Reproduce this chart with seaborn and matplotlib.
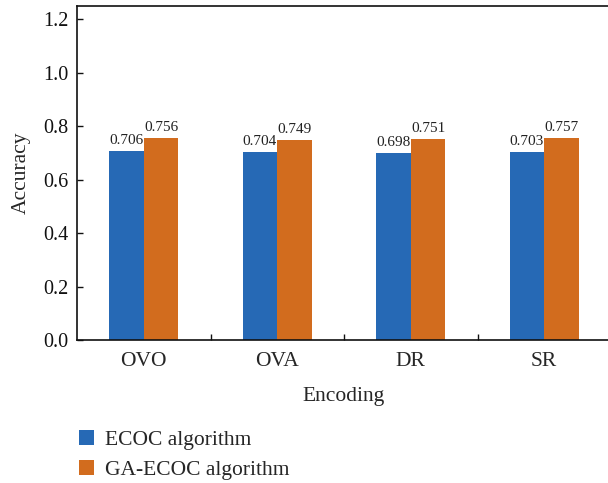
import matplotlib
matplotlib.use("Agg")
import matplotlib.pyplot as plt
import seaborn as sns
import pandas as pd
from matplotlib.ticker import FixedLocator

encodings = ["OVO", "OVA", "DR", "SR"]
ecoc = [0.706, 0.704, 0.698, 0.703]
ga_ecoc = [0.756, 0.749, 0.751, 0.757]
series_names = ["ECOC algorithm", "GA-ECOC algorithm"]
y_ticks = [0.0, 0.2, 0.4, 0.6, 0.8, 1.0, 1.2]

df = pd.DataFrame({
    "Encoding": encodings * 2,
    "Accuracy": ecoc + ga_ecoc,
    "Algorithm": [series_names[0]] * len(encodings) + [series_names[1]] * len(encodings),
})

sns.set_theme(style="ticks")
plt.rcParams["font.family"] = ["Liberation Serif", "DejaVu Serif"]

fig = plt.figure(figsize=(6.08, 4.83), dpi=100)
ax = fig.add_axes([77 / 608, 1 - 340 / 483, (611 - 77) / 608, (340 - 6) / 483])

palette = ["#2669B5", "#D26C1E"]
sns.barplot(data=df, x="Encoding", y="Accuracy", hue="Algorithm",
            palette=palette, saturation=1, width=0.52, linewidth=0,
            ax=ax, legend=True)

for cont in ax.containers:
    ax.bar_label(cont, fmt="%.3f", padding=3, fontsize=11, color="#222222")

ax.set_xlim(-0.5, 3.5)
ax.set_ylim(0, 1.25)
ax.set_yticks(y_ticks)
ax.set_yticklabels([f"{v:.1f}" for v in y_ticks])
ax.tick_params(axis="y", direction="in", length=4, width=1, labelsize=14.5,
               pad=6, colors="#111111")
ax.tick_params(axis="x", which="major", length=0, labelsize=15.5, pad=9)
ax.xaxis.set_minor_locator(FixedLocator([0.5, 1.5, 2.5]))
ax.tick_params(axis="x", which="minor", direction="in", length=4, width=1,
               color="#111111")

for s in ax.spines.values():
    s.set_linewidth(1.2)
    s.set_color("#111111")

ax.set_xlabel("Encoding", fontsize=15.5, labelpad=11)
ax.set_ylabel("Accuracy", fontsize=15.5, labelpad=9)

handles, labels = ax.get_legend_handles_labels()
ax.legend_.remove()
fig.legend(handles, labels, loc="upper left", bbox_to_anchor=(0.115, 0.128),
           frameon=False, fontsize=15.5, handlelength=0.72, handleheight=0.72,
           handletextpad=0.5, labelspacing=0.45, borderaxespad=0)

fig.savefig("out.png", dpi=100)
